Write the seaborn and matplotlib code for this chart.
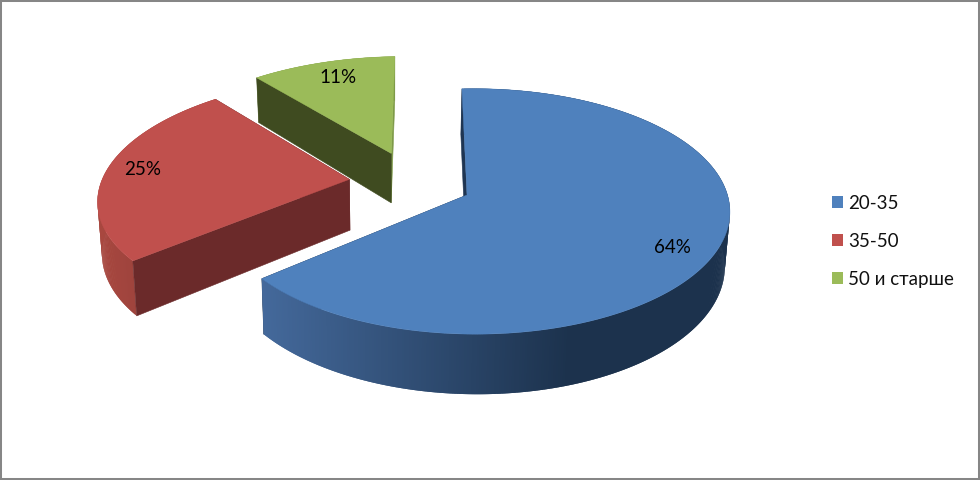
import numpy as np
import seaborn as sns
import matplotlib
matplotlib.use('Agg')
import matplotlib.pyplot as plt
from matplotlib.patches import Polygon, Patch

# Chart data
groups = ['20-35', '35-50', '50 и старше']
shares = [64.1, 25.2, 10.7]
top_colors = ['#4F81BD', '#C0504D', '#9BBB59']
wall_colors = ['#1F3552', '#6B2A2A', '#3F4B20']
end_colors = ['#1F3552', '#6B2A2A', '#7E9A48']
rim_light = ['#44699B', '#A8473F', '#7E9A48']
rim_dark = ['#1C324D', '#94403B', '#7E9A48']

# Fake 3D camera, fitted to the picture
start_angle = -1.3
explode_x, explode_y = 0.245, 0.27
apex_x, apex_y = 467, 195   # where the blue slice tip ends up
reach, sy, persp = 260.5, 120.5, 0.1336
side_persp = [0.03, 0.012, 0.012]
height = 52
bottom_shrink = 0.985
vanish_x = 390
label_r = 0.85
label_shift = [(-5, 8), (0, -2), (6, 3)]

sns.set_theme(style='white')
plt.rcParams['font.family'] = ['Lato', 'Noto Sans', 'DejaVu Sans']

fractions = np.array(shares) / sum(shares)
edges = start_angle + np.concatenate([[0], np.cumsum(fractions)]) * 360
mids = (edges[:-1] + edges[1:]) / 2


def slice_origin(deg):
    a = np.radians(deg)
    return explode_x * np.sin(a), explode_y * np.cos(a)


base_x, base_y = slice_origin(mids[0])


def project(i, x, y, bottom=False):
    # x, y in pie plane, 0,0 is the shared centre of the exploded slices
    k = side_persp[i]
    u = y - base_y
    w = 1 + persp * u - k * (x - base_x)
    px = apex_x + reach * (1 - k) * (x - base_x) / w
    py = apex_y - sy * u / w
    if bottom:
        px = px + (1 - bottom_shrink) * (vanish_x - px)
        py = py + height / w
    return px, py


def on_slice(ox, oy, r, deg):
    a = np.radians(deg)
    return ox + r * np.sin(a), oy + r * np.cos(a)


fig = plt.figure(figsize=(9.8, 4.8), dpi=100)
ax = fig.add_axes([0, 0, 1, 1])
ax.set_xlim(0, 980)
ax.set_ylim(480, 0)
ax.set_xticks([])
ax.set_yticks([])
for s in ax.spines.values():
    s.set_visible(True)
    s.set_color('#868686')
    s.set_linewidth(2.9)

# back slices first so the blue one lands on top
for i in [2, 1, 0]:
    a0, a1 = edges[i], edges[i + 1]
    ox, oy = slice_origin(mids[i])
    angles = np.linspace(a0, a1, int(a1 - a0) * 2 + 2)
    z = 10 - i

    # flat wall on the far edge
    rx, ry = on_slice(ox, oy, 1, a1)
    pts = [project(i, ox, oy), project(i, rx, ry), project(i, rx, ry, True), project(i, ox, oy, True)]
    ax.add_patch(Polygon(pts, closed=True, fc=end_colors[i], ec=end_colors[i], lw=0.4, zorder=z))

    # outer rim, shaded by screen position, each piece runs under the next one
    pal = sns.blend_palette([rim_light[i], rim_dark[i]], 256)
    xs = [project(i, *on_slice(ox, oy, 1, t))[0] for t in angles]
    x_lo, x_hi = min(xs), min(xs) + 0.66 * (max(xs) - min(xs))
    for k in range(len(angles) - 1):
        p0 = on_slice(ox, oy, 1, angles[k])
        p1 = on_slice(ox, oy, 1, angles[min(k + 2, len(angles) - 1)])
        pts = [project(i, *p0), project(i, *p1), project(i, *p1, True), project(i, *p0, True)]
        pos = (xs[k] - x_lo) / max(x_hi - x_lo, 1)
        col = pal[int(np.clip(pos, 0, 1) * 255)]
        ax.add_patch(Polygon(pts, closed=True, fc=col, ec='none', zorder=z))

    # flat wall on the near edge
    rx, ry = on_slice(ox, oy, 1, a0)
    pts = [project(i, ox, oy), project(i, rx, ry), project(i, rx, ry, True), project(i, ox, oy, True)]
    ax.add_patch(Polygon(pts, closed=True, fc=wall_colors[i], ec=wall_colors[i], lw=0.4, zorder=z))

    # top face
    rim = [project(i, *on_slice(ox, oy, 1, t)) for t in angles]
    ax.add_patch(Polygon([project(i, ox, oy)] + rim, closed=True, fc=top_colors[i],
                         ec=top_colors[i], lw=0.3, zorder=z))

    # percent label
    lx, ly = project(i, *on_slice(ox, oy, label_r, mids[i]))
    ax.text(lx + label_shift[i][0], ly + label_shift[i][1], '{:.0f}%'.format(shares[i]),
            ha='center', va='center', fontsize=13.5, color='black', zorder=20)

handles = [Patch(fc=c, ec='none') for c in top_colors]
ax.legend(handles, groups, loc='upper left', bbox_to_anchor=(832 / 980, 1 - 195 / 480),
          frameon=False, fontsize=13.5, labelspacing=1.11, handlelength=0.6,
          handleheight=0.62, handletextpad=0.25, borderpad=0, borderaxespad=0,
          labelcolor='#111111')

fig.savefig('out.png', dpi=100)
